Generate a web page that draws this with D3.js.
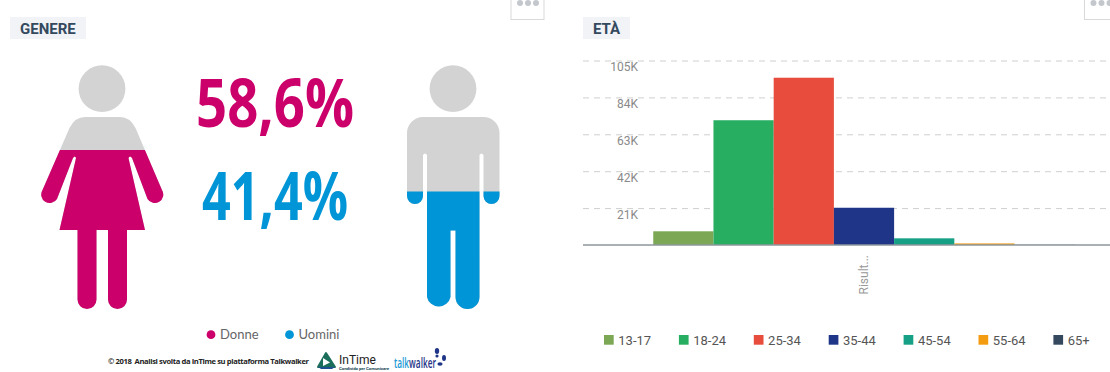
<!DOCTYPE html>
<html>
<head>
<meta charset="utf-8">
<script src="https://cdn.jsdelivr.net/npm/d3@7"></script>
<style>
    html, body { margin: 0; padding: 0; background: #fff; overflow: hidden; }
    svg { display: block; }
    text { font-family: Roboto, sans-serif; }
</style>
</head>
<body>
<div id="chart"></div>
<script>
// gender panel
const genderLabels = ["Donne", "Uomini"];
const genderValues = [58.6, 41.4];

// age panel
const ageGroups = ["13-17", "18-24", "25-34", "35-44", "45-54", "55-64", "65+"];
const ageValues = [7800, 71000, 95200, 21200, 3800, 900, 100];
const ageColors = ["#7ca855", "#27ae60", "#e74c3c", "#1f3587", "#16a085", "#f39c12", "#34495e"];
const yTicks = [21000, 42000, 63000, 84000, 105000];
const xCategories = ["Risult..."];

const width = 1110,
    height = 372;

const pink = "#cc006b",
    blue = "#0095d6",
    figureGrey = "#d3d3d3";

const svg = d3.select("#chart")
    .append("svg")
    .attr("width", width)
    .attr("height", height);

const defs = svg.append("defs");

function panelTitle(x, w, label) {
    svg.append("rect")
        .attr("x", x).attr("y", 17)
        .attr("width", w).attr("height", 22)
        .attr("fill", "#f1f3f6");
    svg.append("text")
        .attr("x", x + 10).attr("y", 34)
        .attr("font-size", 15)
        .attr("font-weight", 700)
        .attr("fill", "#34495e")
        .text(label);
}

function menuButton(x, w) {
    svg.append("rect")
        .attr("x", x).attr("y", -2)
        .attr("width", w).attr("height", 21.5)
        .attr("fill", "#fff")
        .attr("stroke", "#d9d9d9");
    [9, 17, 25].forEach(dx => {
        svg.append("circle")
            .attr("cx", x + dx).attr("cy", 3)
            .attr("r", 3)
            .attr("fill", "#c4c8cc");
    });
}

panelTitle(10, 76, "GENERE");
panelTitle(583, 47, "ETÀ");
menuButton(511, 33);
menuButton(1084.5, 33);

// ---- figures ----
const womanPath = "M85,117 L120,117 Q130,117 135.5,128 L162,190 A8,8 0 0 1 147.5,199 " +
    "L132,158 Q130,155 128.5,158 L145,230 L127,230 L127,299.5 A9.5,9.5 0 0 1 108,299.5 L108,230 " +
    "L96.5,230 L96.5,299.5 A9.5,9.5 0 0 1 77.5,299.5 L77.5,230 L59.5,230 L76,158 Q75,155 73,158 " +
    "L57,199 A8,8 0 0 1 42.5,190 L69.5,128 Q75,117 85,117 Z";
const manPath = "M423,117 L483,117 A16,16 0 0 1 499.5,133 L499.5,196 A8,8 0 0 1 483.5,196 L483.5,155 " +
    "Q481.5,152 479.5,155 L479.5,297 A12,12 0 0 1 455.5,297 L455.5,230.5 L450.5,230.5 L450.5,297 " +
    "A12,12 0 0 1 427,297 L427,155 Q425,152 423,155 L423,196 A8,8 0 0 1 407,196 L407,133 A16,16 0 0 1 423,117 Z";

// fill level of each figure
const level = d3.scaleLinear().domain([0, 100]).range([291.4, 50.1]);

const figures = [
    { path: womanPath, cx: 102, color: pink, value: genderValues[0], id: "clip-woman", left: 30, right: 175 },
    { path: manPath, cx: 453, color: blue, value: genderValues[1], id: "clip-man", left: 400, right: 505 }
];

figures.forEach(f => {
    defs.append("clipPath")
        .attr("id", f.id)
        .append("rect")
        .attr("x", f.left)
        .attr("y", level(f.value))
        .attr("width", f.right - f.left)
        .attr("height", 320 - level(f.value));

    svg.append("circle")
        .attr("cx", f.cx).attr("cy", 88.7)
        .attr("r", 23.4)
        .attr("fill", figureGrey);
    svg.append("path")
        .attr("d", f.path)
        .attr("fill", figureGrey);
    svg.append("path")
        .attr("d", f.path)
        .attr("fill", f.color)
        .attr("clip-path", `url(#${f.id})`);
});

const percent = v => v.toFixed(1).replace(".", ",") + "%";

[[196, 127, 158, pink], [202, 220, 146, blue]].forEach(([x, y, len, col], i) => {
    svg.append("text")
        .attr("x", x).attr("y", y)
        .attr("font-size", 66)
        .attr("font-weight", 700)
        .attr("fill", col)
        .attr("textLength", len)
        .attr("lengthAdjust", "spacingAndGlyphs")
        .style("font-family", "'Open Sans', sans-serif")
        .text(percent(genderValues[i]));
});

const genderLegend = svg.append("g").selectAll("g")
    .data(genderLabels)
    .enter().append("g")
    .attr("transform", (d, i) => `translate(${[211, 289.5][i]},334.7)`);
genderLegend.append("circle")
    .attr("r", 4.4)
    .attr("fill", (d, i) => [pink, blue][i]);
genderLegend.append("text")
    .attr("x", 9).attr("y", 4.6)
    .attr("font-size", 13)
    .attr("fill", "#666")
    .style("font-family", "Lato, sans-serif")
    .text(d => d);

// ---- footer ----
svg.append("text")
    .attr("x", 108).attr("y", 363.5)
    .attr("font-size", 7.6)
    .attr("font-weight", 700)
    .attr("fill", "#222")
    .attr("textLength", 201)
    .attr("xml:space", "preserve")
    .style("font-family", "'Open Sans', sans-serif")
    .text("© 2018  Analisi svolta da InTime su piattaforma Talkwalker");

// InTime logo
svg.append("path").attr("d", "M326,353 L335,367 L318,367 Z")
    .attr("fill", "#1c6e5c").attr("stroke", "#1c6e5c").attr("stroke-width", 2).attr("stroke-linejoin", "round");
svg.append("path").attr("d", "M323,358 L330,362.5 L323,366 Z").attr("fill", "#fff");
svg.append("path").attr("d", "M318,367 L335,367 L332,369 L321,369 Z").attr("fill", "#1d4f91");
svg.append("text")
    .attr("x", 339).attr("y", 363.5)
    .attr("font-size", 12)
    .attr("fill", "#222")
    .text("InTime");
svg.append("text")
    .attr("x", 339).attr("y", 370)
    .attr("font-size", 4.4)
    .attr("font-weight", 700)
    .attr("fill", "#1c4b5c")
    .attr("textLength", 50)
    .text("Condivido per Comunicare");

// talkwalker logo, squeezed like the condensed original
const talkwalker = svg.append("text")
    .attr("transform", "translate(394,367.5) scale(0.57,1)")
    .attr("font-size", 14.5)
    .attr("font-weight", 600)
    .style("font-family", "'Open Sans', sans-serif");
talkwalker.append("tspan").attr("fill", "#1b9ad6").text("talk");
talkwalker.append("tspan").attr("fill", "#1f3587").text("walker");
[[437, 351, 2.2, 3], [444, 358, 2, 3], [437, 356, 1.6, 1.6], [440, 364, 2.6, 1.7]].forEach(([cx, cy, rx, ry]) => {
    svg.append("ellipse")
        .attr("cx", cx).attr("cy", cy)
        .attr("rx", rx).attr("ry", ry)
        .attr("fill", "#1f3587");
});

// ---- age bars ----
const y = d3.scaleLinear()
    .domain([0, 105000])
    .range([245, 60.5]);

const x0 = d3.scaleBand()
    .domain(xCategories)
    .range([583, 1145]);

const x1 = d3.scaleBand()
    .domain(ageGroups)
    .range([x0(xCategories[0]) + x0.bandwidth() * 0.125, x0(xCategories[0]) + x0.bandwidth() * 0.875]);

// dashed grid
const grid = svg.append("g")
    .attr("transform", "translate(583,0)")
    .call(d3.axisLeft(y).tickValues(yTicks).tickSize(-527).tickFormat(""));
grid.select(".domain").remove();
grid.selectAll("line")
    .attr("stroke", "#cfcfcf")
    .attr("stroke-dasharray", "6,5");

// tick labels sit just under their grid line
const yAxis = svg.append("g")
    .attr("transform", "translate(638,0)")
    .call(d3.axisLeft(y).tickValues(yTicks).tickSize(0).tickPadding(0).tickFormat(d => d / 1000 + "K"));
yAxis.select(".domain").remove();
yAxis.selectAll("text")
    .attr("dy", "0.86em")
    .attr("font-size", 12)
    .attr("fill", "#8a8a8a")
    .style("font-family", "Roboto, sans-serif");

svg.append("g")
    .selectAll("rect")
    .data(ageValues)
    .enter().append("rect")
    .attr("x", (d, i) => x1(ageGroups[i]))
    .attr("y", d => y(d))
    .attr("width", x1.bandwidth())
    .attr("height", d => y(0) - y(d))
    .attr("fill", (d, i) => ageColors[i]);

// baseline and category label
const xAxis = svg.append("g")
    .attr("transform", `translate(0,${y(0)})`)
    .call(d3.axisBottom(x0).tickSize(0));
xAxis.select(".domain")
    .attr("stroke", "#8e979c")
    .attr("stroke-width", 1.5)
    .attr("d", "M583,0H1110");
xAxis.selectAll("text")
    .attr("transform", "rotate(-90)")
    .attr("x", -10)
    .attr("y", 0)
    .attr("dy", "0.35em")
    .attr("text-anchor", "end")
    .attr("font-size", 12)
    .attr("fill", "#999")
    .style("font-family", "Roboto, sans-serif");

// age legend
const legend = svg.append("g")
    .selectAll("g")
    .data(ageGroups)
    .enter().append("g")
    .attr("transform", (d, i) => `translate(${604 + i * 74.9},335)`);
legend.append("rect")
    .attr("width", 9.7).attr("height", 9.7)
    .attr("fill", (d, i) => ageColors[i]);
legend.append("text")
    .attr("x", 14.3).attr("y", 9.6)
    .attr("font-size", 13)
    .attr("fill", "#555")
    .text(d => d);
</script>
</body>
</html>
